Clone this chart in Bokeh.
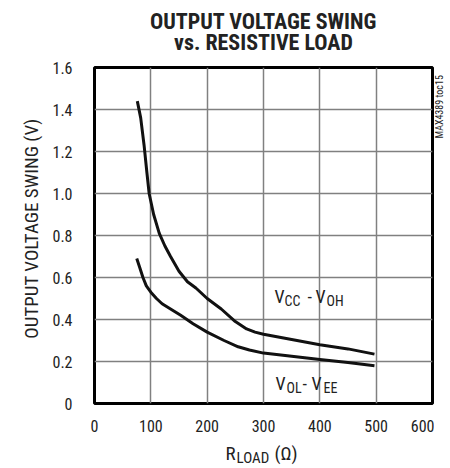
from bokeh.plotting import figure
from bokeh.models import Label, FixedTicker, CustomJSTickFormatter, Range1d
from bokeh.layouts import row, column
from bokeh.embed import file_html
from bokeh.resources import INLINE
import math

# ---- data ----
r_upper = [76, 82, 88, 93, 97, 105, 115, 125, 135, 150, 165, 180, 200, 225, 250, 270, 285, 300, 350, 400, 450, 497]
v_upper = [1.44, 1.36, 1.23, 1.10, 1.00, 0.90, 0.81, 0.75, 0.70, 0.63, 0.58, 0.55, 0.50, 0.45, 0.39, 0.355, 0.34, 0.33, 0.305, 0.28, 0.26, 0.235]

r_lower = [75, 80, 86, 92, 100, 110, 120, 135, 153, 175, 200, 230, 255, 275, 300, 350, 400, 450, 497]
v_lower = [0.69, 0.65, 0.60, 0.56, 0.53, 0.50, 0.475, 0.45, 0.42, 0.38, 0.34, 0.30, 0.27, 0.255, 0.24, 0.225, 0.21, 0.195, 0.18]

x_ticks = [0, 100, 200, 300, 400, 500, 600]
y_ticks = [0, 0.2, 0.4, 0.6, 0.8, 1.0, 1.2, 1.4, 1.6]

title_lines = ["OUTPUT VOLTAGE SWING", "vs. RESISTIVE LOAD"]
y_label = "OUTPUT VOLTAGE SWING (V)"
side_note = "MAX4389 toc15"

FONT = "'Liberation Sans Narrow', 'Arial Narrow', 'Roboto Condensed', 'Liberation Sans', sans-serif"
INK = "#222222"

# page layout (pixels)
W, H = 450, 468
LEFT_W = 45          # strip holding the y-axis title
SIDE_W = 16          # strip holding the side note
FL, FT, FR, FB = 94, 67, 432, 403   # frame edges on the page
MID_W = W - LEFT_W - SIDE_W
BL = FL - LEFT_W                    # left border of every plot in the middle column
BR = LEFT_W + MID_W - FR            # right border of every plot in the middle column
BT = 8                              # top border of every plot in the middle column
TOP_H = FT - BT                     # title strip height
MAIN_B = 31                         # room for the x tick labels
MAIN_H = BT + (FB - FT) + MAIN_B
BOT_Y0 = TOP_H + MAIN_H
BOT_H = H - BOT_Y0

# ---- main chart ----
p = figure(width=MID_W, height=MAIN_H, output_backend="svg", toolbar_location=None,
           x_range=Range1d(0, 600), y_range=Range1d(0, 1.6),
           min_border_left=BL, min_border_right=BR, min_border_top=BT, min_border_bottom=MAIN_B)
p.background_fill_color = "white"
p.border_fill_color = "white"
p.outline_line_color = "black"
p.outline_line_width = 3

for ax in (p.xaxis, p.yaxis):
    ax.axis_line_color = None
    ax.major_tick_line_color = None
    ax.minor_tick_line_color = None
    ax.major_label_text_font = FONT
    ax.major_label_text_font_size = "16px"
    ax.major_label_text_color = INK

p.xaxis.ticker = FixedTicker(ticks=x_ticks)
p.yaxis.ticker = FixedTicker(ticks=y_ticks)
p.yaxis.formatter = CustomJSTickFormatter(code="return tick == 0 ? '0' : tick.toFixed(1);")
p.xaxis.major_label_standoff = 10
p.yaxis.major_label_standoff = 16

p.xgrid.ticker = FixedTicker(ticks=x_ticks)
p.ygrid.ticker = FixedTicker(ticks=y_ticks)
for g in (p.xgrid, p.ygrid):
    g.grid_line_color = "#808080"
    g.grid_line_width = 1.5

p.line(r_upper, v_upper, line_color="#111111", line_width=3)
p.line(r_lower, v_lower, line_color="#111111", line_width=3)

def X(px):
    return (px - FL) * 600.0 / (FR - FL)

def Y(py):
    return (FB - py) * 1.6 / (FB - FT)

# the alphabetic baseline of a Label lands about this many pixels lower on the page
BIG_SHIFT, SUB_SHIFT = 7, 6

def lab(fig, txt, x, y, size, align="left", angle=0.0, baseline="alphabetic", bold=False):
    fig.add_layout(Label(x=x, y=y, text=txt, text_font=FONT, text_font_size=size,
                         text_font_style="bold" if bold else "normal",
                         text_align=align, text_baseline=baseline, angle=angle,
                         text_color=INK))

# curve labels: VCC - VOH
lab(p, "V", X(274), Y(303 - BIG_SHIFT), "18px")
lab(p, "CC", X(284), Y(306 - SUB_SHIFT), "14px")
lab(p, "-", X(307), Y(303 - BIG_SHIFT), "18px")
lab(p, "V", X(315), Y(303 - BIG_SHIFT), "18px")
lab(p, "OH", X(326), Y(306 - SUB_SHIFT), "14px")

# VOL- VEE
lab(p, "V", X(275), Y(390 - BIG_SHIFT), "18px")
lab(p, "OL", X(286), Y(393 - SUB_SHIFT), "14px")
lab(p, "-", X(302), Y(390 - BIG_SHIFT), "18px")
lab(p, "V", X(311), Y(390 - BIG_SHIFT), "18px")
lab(p, "EE", X(323), Y(393 - SUB_SHIFT), "14px")

# ---- text strips (ranges in page pixels, y downward) ----
def strip(w, h, fx0, fx1, fy_top, fy_bot, bl=0, br=0, bt=0, bb=0):
    f = figure(width=w, height=h, output_backend="svg", toolbar_location=None,
               x_range=Range1d(fx0, fx1), y_range=Range1d(fy_bot, fy_top),
               x_axis_type=None, y_axis_type=None,
               min_border_left=bl, min_border_right=br, min_border_top=bt, min_border_bottom=bb)
    f.outline_line_color = None
    f.grid.visible = False
    f.background_fill_color = "white"
    f.border_fill_color = "white"
    return f

# title strip: same side borders as the main chart, frame spans page y BT..TOP_H
top = strip(MID_W, TOP_H, FL, FR, BT, TOP_H, bl=BL, br=BR, bt=BT)
lab(top, title_lines[0], 263, 28 - BIG_SHIFT, "22px", align="center", bold=True)
lab(top, title_lines[1], 263, 49 - BIG_SHIFT, "22px", align="center", bold=True)

# x-axis title strip
bot = strip(MID_W, BOT_H, FL, FR, BOT_Y0 + BT, H, bl=BL, br=BR, bt=BT)
lab(bot, "R", 225, 460 - BIG_SHIFT, "19px")
lab(bot, "LOAD", 236, 463 - SUB_SHIFT, "15px")
lab(bot, "(\u03a9)", 274, 460 - BIG_SHIFT, "19px")

left = strip(LEFT_W, H, 0, LEFT_W, 0, H)
lab(left, y_label, 30.5, 228, "19px", align="center", angle=math.pi / 2, baseline="middle")

side = strip(SIDE_W, H, LEFT_W + MID_W, W, 0, H)
lab(side, side_note, 438.5, 138, "10px", align="left", angle=math.pi / 2, baseline="middle")

layout = row(left, column(top, p, bot, spacing=0), side, spacing=0)

open("out.html", "w").write(file_html(layout, INLINE))
